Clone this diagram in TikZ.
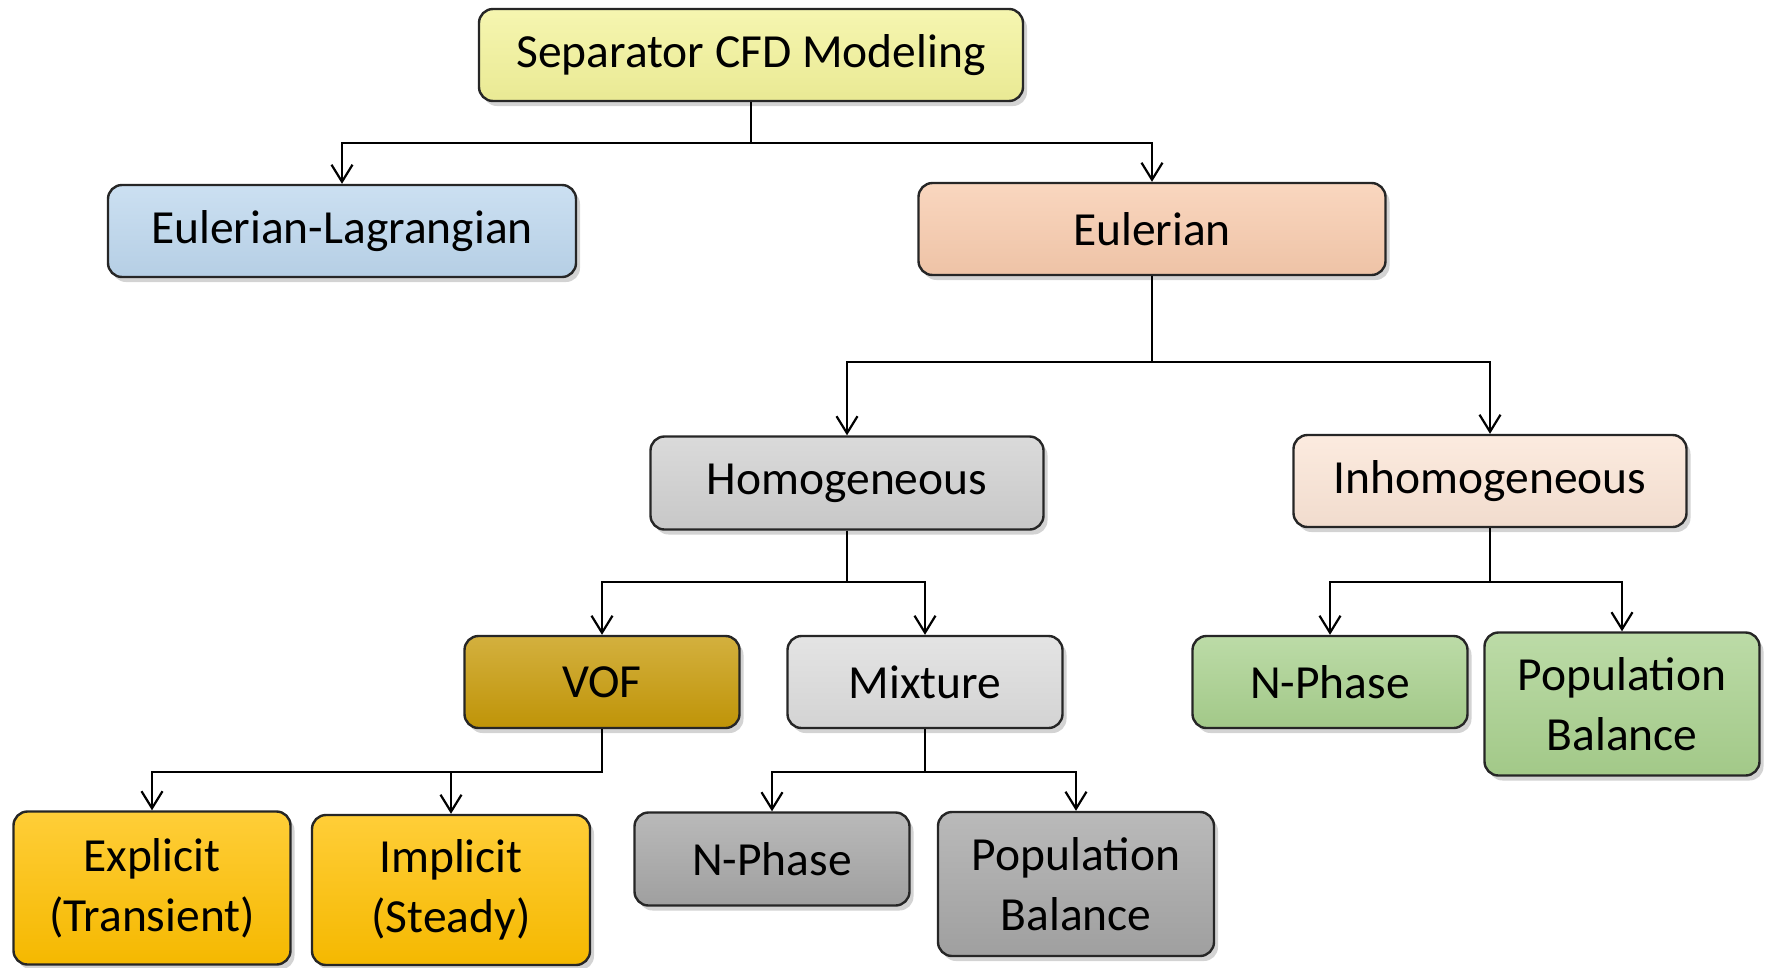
\documentclass[tikz,border=0pt]{standalone}
\usepackage{fontspec}
\setmainfont{Carlito}
\usetikzlibrary{shadows,arrows.meta}
\definecolor{cSep}{HTML}{F3F39A}
\definecolor{cEL}{HTML}{BDD7EE}
\definecolor{cEul}{HTML}{F8CBAD}
\definecolor{cHom}{HTML}{D0D0D0}
\definecolor{cInh}{HTML}{FBE5D6}
\definecolor{cVOF}{HTML}{C79A08}
\definecolor{cMix}{HTML}{DCDCDC}
\definecolor{cGreen}{HTML}{A9D18E}
\definecolor{cGold}{HTML}{FFC000}
\definecolor{cGray}{HTML}{A6A6A6}
\tikzset{
  box/.style={draw=black!85, line width=2.4pt, rounded corners=14pt, align=center,
    inner sep=0pt, font=\fontsize{47.5}{60}\selectfont,
    top color=#1!78!white, middle color=#1, bottom color=#1!96!black,
    drop shadow={shadow xshift=4pt, shadow yshift=-5pt, opacity=0.35}},
  arr/.style={draw=black, line width=2.4pt,
    -{Straight Barb[length=17pt,width=21pt,line width=2.2pt]}},
}
\begin{document}
\begin{tikzpicture}[x=1pt,y=-1pt]
\useasboundingbox (0,0) rectangle (1767,967);
\node[box=cSep, minimum width=544pt, minimum height=92pt] (sep) at (751,55) {Separator CFD Modeling};
\node[box=cEL, minimum width=468pt, minimum height=92pt] (el) at (342,231) {Eulerian-Lagrangian};
\node[box=cEul, minimum width=467pt, minimum height=92pt] (eul) at (1152,229) {Eulerian};
\node[box=cHom, minimum width=393pt, minimum height=93pt] (hom) at (847,483) {Homogeneous};
\node[box=cInh, minimum width=393pt, minimum height=92pt] (inh) at (1490,481) {Inhomogeneous};
\node[box=cVOF, minimum width=275pt, minimum height=92pt] (vof) at (602,682) {VOF};
\node[box=cMix, minimum width=275pt, minimum height=92pt] (mix) at (925,682) {Mixture};
\node[box=cGreen, minimum width=275pt, minimum height=92pt] (npg) at (1330,682) {N-Phase};
\node[box=cGreen, minimum width=275pt, minimum height=143pt] (pbg) at (1622,704) {Population\\Balance};
\node[box=cGold, minimum width=277pt, minimum height=153pt] (exp) at (152,888) {Explicit\\(Transient)};
\node[box=cGold, minimum width=278pt, minimum height=150pt] (imp) at (451,890) {Implicit\\(Steady)};
\node[box=cGray, minimum width=275pt, minimum height=93pt] (npa) at (772,859) {N-Phase};
\node[box=cGray, minimum width=276pt, minimum height=144pt] (pba) at (1076,884) {Population\\Balance};

\draw[arr] (sep.south) -- ++(0,41) -| (el.north);
\draw[arr] (sep.south) -- ++(0,41) -| (eul.north);
\draw[arr] (eul.south) -- ++(0,86) -| (hom.north);
\draw[arr] (eul.south) -- ++(0,86) -| (inh.north);
\draw[arr] (hom.south) -- ++(0,51) -| (vof.north);
\draw[arr] (hom.south) -- ++(0,51) -| (mix.north);
\draw[arr] (inh.south) -- ++(0,54) -| (npg.north);
\draw[arr] (inh.south) -- ++(0,54) -| (pbg.north);
\draw[arr] (vof.south) -- ++(0,43) -| (exp.north);
\draw[arr] (vof.south) -- ++(0,43) -| (imp.north);
\draw[arr] (mix.south) -- ++(0,43) -| (npa.north);
\draw[arr] (mix.south) -- ++(0,43) -| (pba.north);
\end{tikzpicture}
\end{document}
